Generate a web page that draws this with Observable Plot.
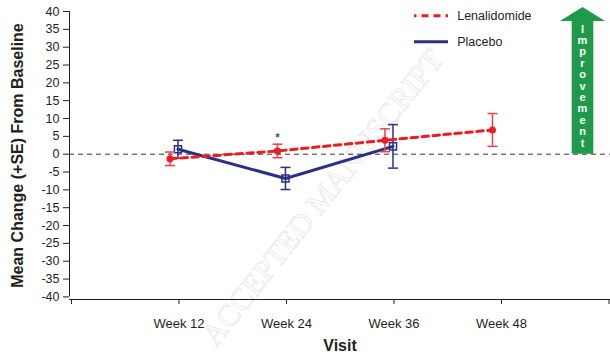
<!DOCTYPE html>
<html><head><meta charset="utf-8">
<script src="https://cdn.jsdelivr.net/npm/d3@7"></script>
<script src="https://cdn.jsdelivr.net/npm/@observablehq/plot@0.6"></script>
<style>body{margin:0;background:#fff}#chart svg{display:block}</style>
</head><body><div id="chart"></div>
<script>
// ---- data ----
const visits = [12, 24, 36, 48];
const visitLabels = ["Week 12", "Week 24", "Week 36", "Week 48"];
const axisTicks = [0, 12, 24, 36, 48, 60];
const lenaMean = [-1.3, 0.9, 3.9, 6.8];
const lenaSE = [1.9, 1.9, 3.2, 4.6];
const placeboVisits = [12, 24, 36];
const placeboMean = [1.4, -6.8, 2.2];
const placeboSE = [2.5, 3.1, 6.1];
const yTicks = d3.range(-40, 41, 5);
const seriesNames = ["Lenalidomide", "Placebo"];
const significantVisits = [24];
const yTitle = "Mean Change (+SE) From Baseline";
const xTitle = "Visit";
const arrowText = "Improvement";
const watermark = "ACCEPTED MANUSCRIPT";

// ---- styles ----
const RED = "#ec1c24", RED_ERR = "#ef4048", NAVY = "#2b2f86", GREEN = "#1f9a4b";
const FONT = "'Liberation Sans', Arial, Helvetica, sans-serif";

const lena = visits.map((v, i) => ({visit: v, mean: lenaMean[i], se: lenaSE[i]}));
const placebo = placeboVisits.map((v, i) => ({visit: v, mean: placeboMean[i], se: placeboSE[i]}));
const labelMap = new Map(visits.map((v, i) => [v, visitLabels[i]]));
const sig = significantVisits.map(v => lena.find(d => d.visit === v));

const cap = {draw(ctx, size) { const w = Math.sqrt(size / Math.PI); ctx.moveTo(-w, 0); ctx.lineTo(w, 0); }};

const lo = d => d.mean - d.se, hi = d => d.mean + d.se;

const chart = Plot.plot({
  width: 610, height: 352,
  marginTop: 11, marginBottom: 53, marginLeft: 69, marginRight: 0,
  style: {fontFamily: FONT, fontSize: "12.5px", color: "#231f20", background: "white", overflow: "visible"},
  x: {domain: [-0.22, 60.17]},
  y: {domain: [-40.73, 40]},
  marks: [
    Plot.ruleY([0], {stroke: "#333", strokeDasharray: "5,4", strokeWidth: 1}),
    Plot.ruleX([-0.22], {y1: -40, y2: 40, stroke: "#231f20", strokeWidth: 1}),
    Plot.ruleY([-40.73], {stroke: "#231f20", strokeWidth: 1}),
    Plot.axisY({ticks: yTicks, tickSize: 6, tickPadding: 4, tickFormat: d => String(d), label: null, fontSize: 12.5}),
    Plot.axisX({ticks: axisTicks, tickSize: 5, tickPadding: 14, tickFormat: d => labelMap.get(d) ?? "", label: null, fontSize: 13}),
    Plot.text([xTitle], {frameAnchor: "bottom", dy: 51, lineAnchor: "bottom", textAnchor: "middle", fontWeight: "bold", fontSize: 16}),
    Plot.text([yTitle], {frameAnchor: "left", rotate: -90, dx: -46.5, lineAnchor: "bottom", textAnchor: "middle", fontWeight: "bold", fontSize: 16}),
    // placebo
    Plot.line(placebo, {x: "visit", y: "mean", stroke: NAVY, strokeWidth: 3, dx: -1}),
    Plot.ruleX(placebo, {x: "visit", y1: lo, y2: hi, stroke: NAVY, strokeWidth: 1.5, dx: -1}),
    Plot.dot(placebo, {x: "visit", y: lo, symbol: cap, r: 5, stroke: NAVY, strokeWidth: 1.5, dx: -1}),
    Plot.dot(placebo, {x: "visit", y: hi, symbol: cap, r: 5, stroke: NAVY, strokeWidth: 1.5, dx: -1}),
    Plot.dot(placebo, {x: "visit", y: "mean", symbol: "square", r: 4, stroke: NAVY, fill: "none", strokeWidth: 1.5, dx: -1}),
    // lenalidomide
    Plot.line(lena, {x: "visit", y: "mean", stroke: RED, strokeWidth: 3, strokeDasharray: "6.5,4.5", dx: -9}),
    Plot.ruleX(lena, {x: "visit", y1: lo, y2: hi, stroke: RED_ERR, strokeWidth: 1.5, dx: -9}),
    Plot.dot(lena, {x: "visit", y: lo, symbol: cap, r: 5, stroke: RED_ERR, strokeWidth: 1.5, dx: -9}),
    Plot.dot(lena, {x: "visit", y: hi, symbol: cap, r: 5, stroke: RED_ERR, strokeWidth: 1.5, dx: -9}),
    Plot.dot(lena, {x: "visit", y: "mean", r: 3.5, fill: RED, stroke: "none", dx: -9}),
    Plot.text(sig, {x: "visit", y: hi, text: () => "*", dx: -9, dy: -2, lineAnchor: "bottom", fontSize: 13}),
    // legend text
    Plot.text([seriesNames[0]], {frameAnchor: "top-left", dx: 456.7 - 69, dy: 19.5 - 11, lineAnchor: "bottom", textAnchor: "start", fontSize: 12.5}),
    Plot.text([seriesNames[1]], {frameAnchor: "top-left", dx: 456.7 - 69, dy: 45.7 - 11, lineAnchor: "bottom", textAnchor: "start", fontSize: 12.5})
  ]
});

// decorations: watermark, legend samples, improvement arrow
const svg = d3.select(chart);
const ys = chart.scale("y");
svg.insert("text", ":first-child")
  .attr("transform", "translate(322,197) rotate(-51.5)")
  .attr("text-anchor", "middle").attr("dy", "0.35em")
  .attr("font-family", "'Liberation Serif', 'DejaVu Serif', serif").attr("font-size", 31)
  .attr("fill", "#fdfdfd").attr("stroke", "#e0e0e0").attr("stroke-width", 0.5)
  .text(watermark);
svg.insert("rect", ":first-child").attr("width", 610).attr("height", 352).attr("fill", "white");

const leg = svg.append("g");
leg.append("line").attr("x1", 414).attr("x2", 448).attr("y1", 15.7).attr("y2", 15.7)
  .attr("stroke", RED).attr("stroke-width", 3).attr("stroke-dasharray", "2.5,5,7,5,7,5,7");
leg.append("line").attr("x1", 414).attr("x2", 448).attr("y1", 41.7).attr("y2", 41.7)
  .attr("stroke", NAVY).attr("stroke-width", 3);

const y0 = ys.apply(0);
const cx = 582.5, hw = 22.5, sw = 10.8, tip = 7, base = 21;
const arrow = svg.append("g");
arrow.append("path")
  .attr("d", `M${cx},${tip}L${cx + hw},${base}L${cx + sw},${base}L${cx + sw},${y0}L${cx - sw},${y0}L${cx - sw},${base}L${cx - hw},${base}Z`)
  .attr("fill", GREEN);
arrowText.split("").forEach((ch, i) => {
  arrow.append("text").attr("x", cx).attr("y", 32.5 + i * 11.4)
    .attr("text-anchor", "middle").attr("fill", "white")
    .attr("font-family", FONT).attr("font-weight", "bold").attr("font-size", 11)
    .text(ch);
});

document.getElementById("chart").appendChild(chart);
</script>
</body></html>
